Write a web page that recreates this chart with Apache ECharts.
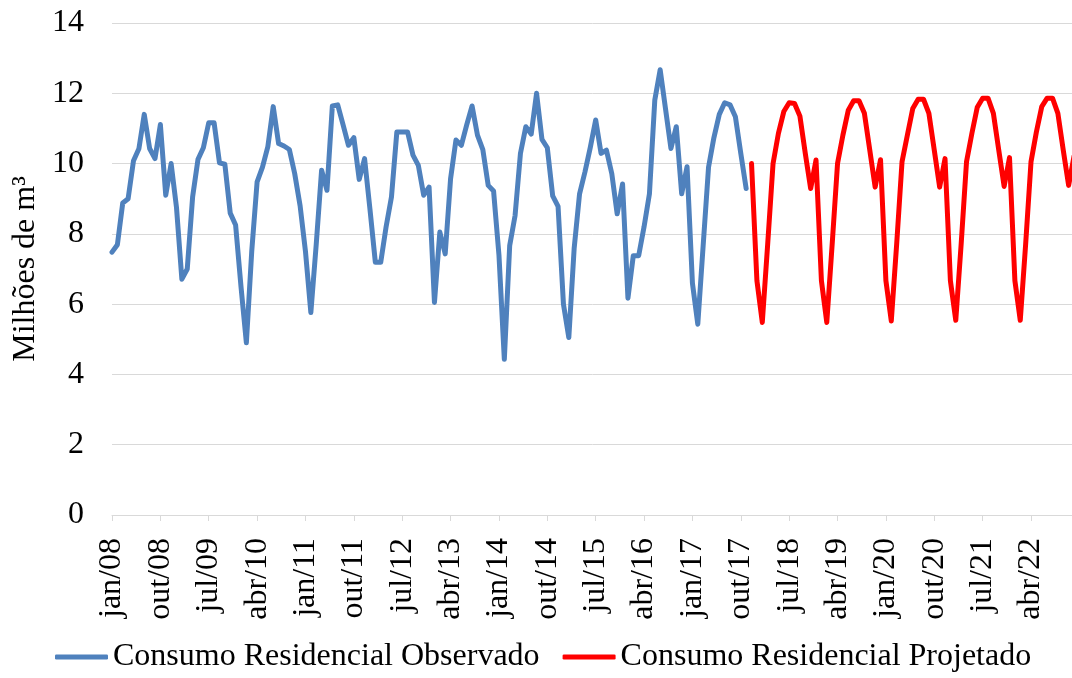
<!DOCTYPE html>
<html>
<head>
<meta charset="utf-8">
<title>Consumo Residencial</title>
<script src="https://cdn.jsdelivr.net/npm/echarts@6.0.0/dist/echarts.min.js"></script>
<style>
  html, body { margin: 0; padding: 0; background: #fff; }
  #main { width: 1072px; height: 678px; }
</style>
</head>
<body>
<div id="main"></div>
<script>
// meses e anos do eixo x (jan/08 .. dez/22)
var months = ["jan", "fev", "mar", "abr", "mai", "jun", "jul", "ago", "set", "out", "nov", "dez"];
var years = ["08", "09", "10", "11", "12", "13", "14", "15", "16", "17", "18", "19", "20", "21", "22"];

// consumo observado, jan/08 .. nov/17 (milhões de m3)
var observed = [
  7.48, 7.69, 8.88, 9.0, 10.08, 10.42, 11.4, 10.43, 10.14, 11.11, 9.1, 10.0,
  8.75, 6.71, 7.0, 9.05, 10.12, 10.45, 11.16, 11.16, 10.02, 9.98, 8.59, 8.25,
  6.5, 4.9, 7.5, 9.48, 9.9, 10.48, 11.62, 10.57, 10.5, 10.4, 9.71, 8.8,
  7.5, 5.76, 7.7, 9.81, 9.24, 11.64, 11.67, 11.1, 10.52, 10.74, 9.55, 10.14,
  8.7, 7.19, 7.19, 8.2, 9.05, 10.9, 10.9, 10.9, 10.24, 9.95, 9.1, 9.33,
  6.05, 8.05, 7.43, 9.57, 10.67, 10.52, 11.1, 11.64, 10.81, 10.4, 9.38, 9.22,
  7.4, 4.43, 7.67, 8.52, 10.29, 11.05, 10.84, 12.0, 10.69, 10.45, 9.08, 8.78,
  6.0, 5.05, 7.6, 9.14, 9.76, 10.46, 11.24, 10.29, 10.38, 9.71, 8.57, 9.42,
  6.17, 7.38, 7.38, 8.2, 9.14, 11.81, 12.67, 11.55, 10.43, 11.05, 9.14, 9.91,
  6.6, 5.43, 7.67, 9.9, 10.74, 11.4, 11.73, 11.67, 11.33, 10.29, 9.29
];

// consumo projetado, dez/17 .. dez/22
var projected = [
  10.0,
  6.67, 5.48, 7.7, 10.0, 10.86, 11.48, 11.73, 11.71, 11.35, 10.29, 9.29, 10.1,
  6.67, 5.48, 7.7, 10.0, 10.81, 11.52, 11.79, 11.79, 11.43, 10.38, 9.33, 10.11,
  6.67, 5.52, 7.7, 10.05, 10.81, 11.57, 11.83, 11.83, 11.43, 10.38, 9.33, 10.14,
  6.67, 5.54, 7.7, 10.05, 10.86, 11.6, 11.86, 11.86, 11.43, 10.38, 9.35, 10.17,
  6.67, 5.54, 7.7, 10.05, 10.9, 11.62, 11.86, 11.86, 11.43, 10.38, 9.38, 10.2
];

var yTicks = { min: 0, max: 14, interval: 2 };

var categories = [];
years.forEach(function (y) {
  months.forEach(function (m) {
    categories.push(m + "/" + y);
  });
});

// a serie projetada comeca onde a observada termina
var projectedData = [];
for (var i = 0; i < observed.length; i++) projectedData.push(null);
projectedData = projectedData.concat(projected);

var font = "Liberation Serif";
var chart = echarts.init(document.getElementById("main"));

var option = {
  animation: false,
  backgroundColor: "#fff",
  textStyle: { fontFamily: font, color: "#000" },

  grid: {
    left: 112,
    right: -2,
    top: 23,
    bottom: 163,
    containLabel: false,
    outerBoundsMode: "none",
  },

  legend: {
    left: 50,
    top: 636,
    icon: "roundRect",
    itemWidth: 53,
    itemHeight: 5,
    itemGap: 23,
    textStyle: { fontFamily: font, fontSize: 32, color: "#000" },
    data: ["Consumo Residencial Observado", "Consumo Residencial Projetado"],
  },

  xAxis: {
    type: "category",
    data: categories,
    boundaryGap: false,
    axisLine: { lineStyle: { color: "#d9d9d9", width: 1 } },
    axisTick: { show: true, interval: 8, length: 6, lineStyle: { color: "#d9d9d9" } },
    axisLabel: {
      interval: 8,
      rotate: 90,
      margin: 23,
      fontFamily: font,
      fontSize: 32,
      color: "#000",
    },
    splitLine: { show: false },
  },

  yAxis: {
    type: "value",
    min: yTicks.min,
    max: yTicks.max,
    interval: yTicks.interval,
    name: "Milhões de m³",
    nameLocation: "middle",
    nameRotate: 90,
    nameGap: 70,
    nameTextStyle: { fontFamily: font, fontSize: 32, color: "#000" },
    axisLine: { show: false },
    axisTick: { show: false },
    axisLabel: { margin: 28, fontFamily: font, fontSize: 32, color: "#000" },
    splitLine: { lineStyle: { color: "#d9d9d9", width: 1 } },
  },

  series: [
    {
      name: "Consumo Residencial Observado",
      type: "line",
      data: observed,
      symbol: "none",
      color: "#4f81bd",
      lineStyle: { color: "#4f81bd", width: 5, join: "round", cap: "round" },
    },
    {
      name: "Consumo Residencial Projetado",
      type: "line",
      data: projectedData,
      symbol: "none",
      color: "#ff0000",
      lineStyle: { color: "#ff0000", width: 5, join: "round", cap: "round" },
    },
  ],
};

chart.setOption(option);
</script>
</body>
</html>
